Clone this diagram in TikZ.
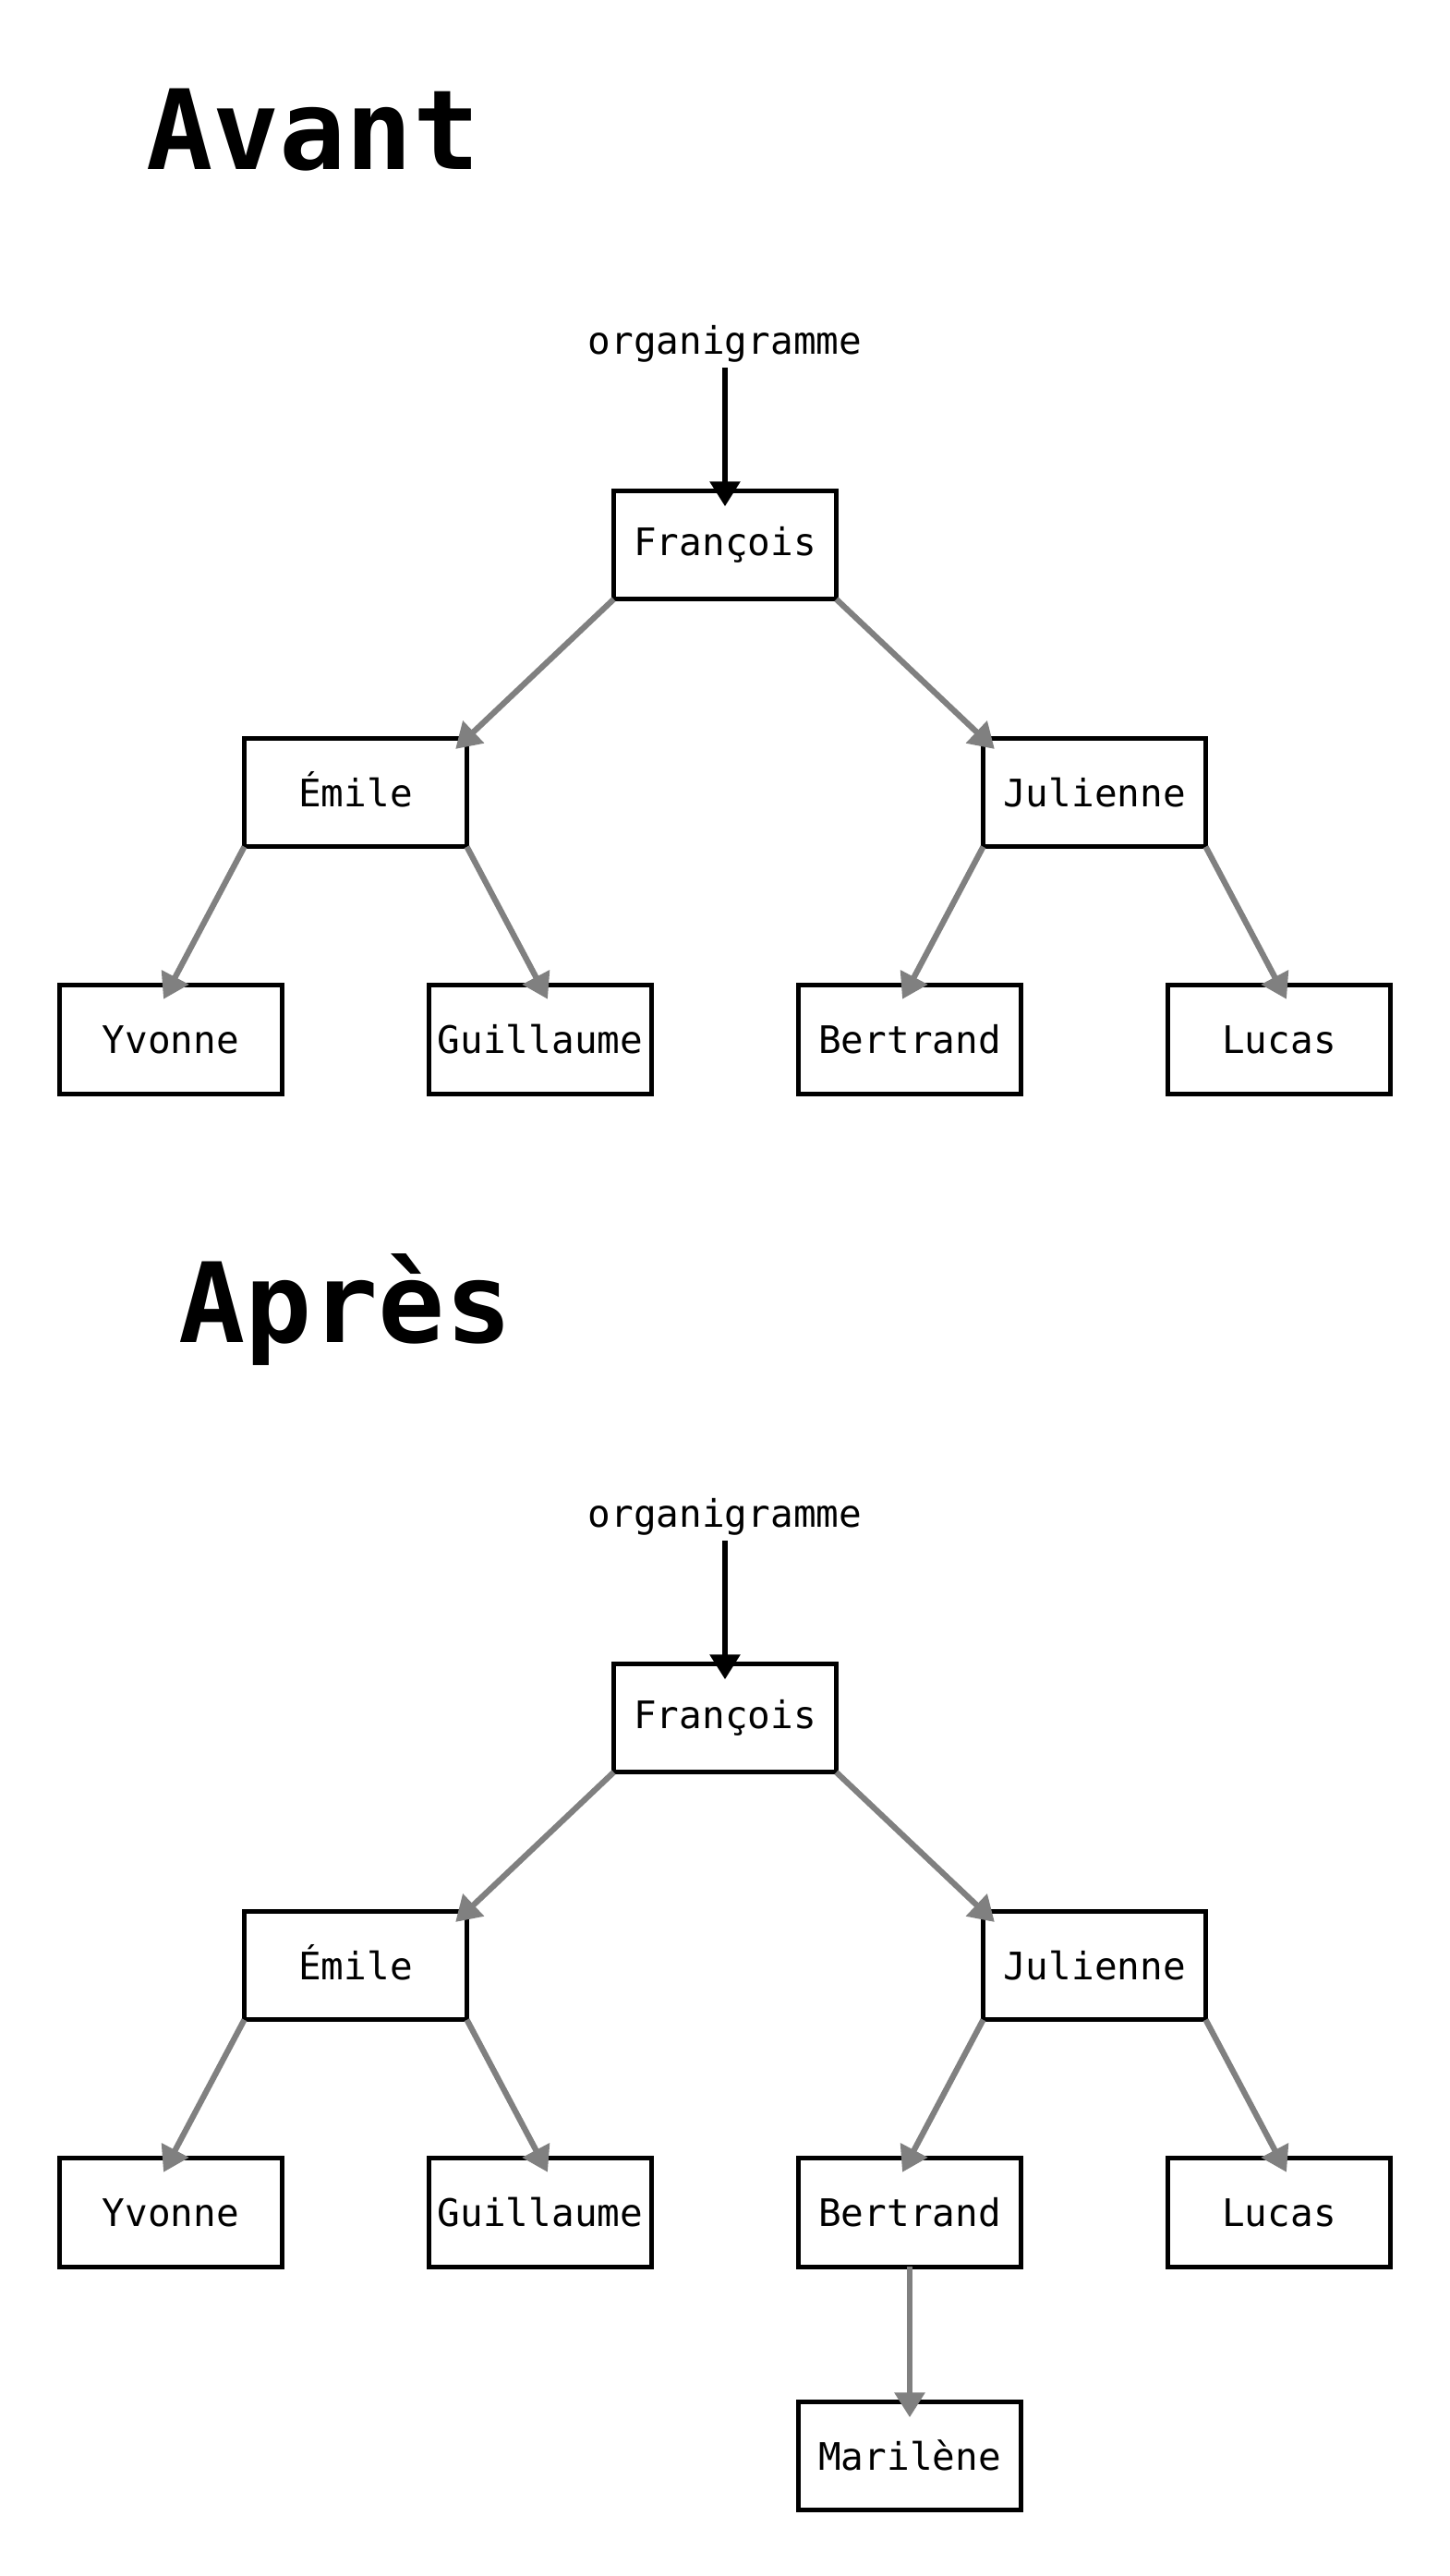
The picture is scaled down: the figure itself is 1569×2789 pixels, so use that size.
\documentclass[tikz,border=0pt]{standalone}
\usepackage{fontspec}
\newfontfamily\monofam{DejaVu Sans Mono}
\usetikzlibrary{arrows.meta}
\definecolor{arrgray}{HTML}{808080}
\tikzset{
  person/.style={draw=black, line width=5pt, fill=white, minimum width=241pt,
    minimum height=117.5pt, inner sep=0pt, outer sep=0pt,
    font=\monofam\fontsize{41}{49}\selectfont, text height=30pt, text depth=0pt},
  deep/.style={text depth=8pt},
  link/.style={draw=arrgray, line width=6.3pt, -{Triangle[width=32pt,length=27pt]},
    shorten >=-17pt},
  rootlink/.style={draw=black, line width=6pt, -{Triangle[width=32pt,length=27pt]},
    shorten >=-17pt, shorten <=6pt},
  title/.style={font=\monofam\bfseries\fontsize{120}{140}\selectfont,
    anchor=base west, inner sep=0pt},
  orgtext/.style={font=\monofam\fontsize{41}{49}\selectfont, anchor=base, inner sep=0pt}
}
\begin{document}
\begin{tikzpicture}[x=1pt, y=-1pt]
\fill[white] (0,0) rectangle (1569,2789);
\useasboundingbox (0,0) rectangle (1569,2789);

% ---------- Avant ----------
\node[title] (t1) at (158,183) {Avant};
\node[orgtext] (o1) at (785,383) {organigramme};
\node[person,deep] (f1) at (785,590) {François};
\node[person] (e1) at (385,858) {Émile};
\node[person] (j1) at (1185,858) {Julienne};
\node[person] (y1) at (185,1125.5) {Yvonne};
\node[person] (g1) at (585,1125.5) {Guillaume};
\node[person] (b1) at (985,1125.5) {Bertrand};
\node[person] (l1) at (1385,1125.5) {Lucas};

\draw[rootlink] (o1.south) -- (f1.north);
\draw[link] (f1.south west) -- (e1.north east);
\draw[link] (f1.south east) -- (j1.north west);
\draw[link] (e1.south west) -- (y1.north);
\draw[link] (e1.south east) -- (g1.north);
\draw[link] (j1.south west) -- (b1.north);
\draw[link] (j1.south east) -- (l1.north);

% ---------- Après ----------
\node[title] (t2) at (193,1453) {Après};
\node[orgtext] (o2) at (785,1653) {organigramme};
\node[person,deep] (f2) at (785,1860) {François};
\node[person] (e2) at (385,2128) {Émile};
\node[person] (j2) at (1185,2128) {Julienne};
\node[person] (y2) at (185,2395.5) {Yvonne};
\node[person] (g2) at (585,2395.5) {Guillaume};
\node[person] (b2) at (985,2395.5) {Bertrand};
\node[person] (l2) at (1385,2395.5) {Lucas};
\node[person] (m2) at (985,2659) {Marilène};

\draw[rootlink] (o2.south) -- (f2.north);
\draw[link] (f2.south west) -- (e2.north east);
\draw[link] (f2.south east) -- (j2.north west);
\draw[link] (e2.south west) -- (y2.north);
\draw[link] (e2.south east) -- (g2.north);
\draw[link] (j2.south west) -- (b2.north);
\draw[link] (j2.south east) -- (l2.north);
\draw[link] (b2.south) -- (m2.north);
\end{tikzpicture}
\end{document}
